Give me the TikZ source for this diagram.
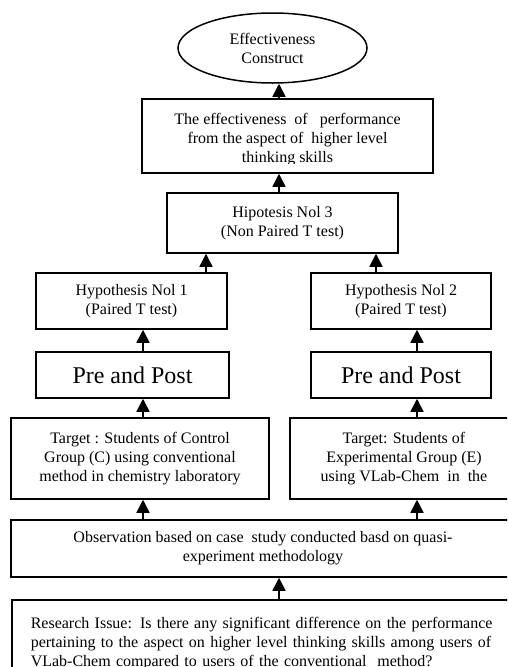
\documentclass[tikz,border=0pt]{standalone}
\usepackage{fontspec}
\setmainfont{Liberation Serif}
\usetikzlibrary{arrows.meta,shapes.geometric}
\begin{document}
\begin{tikzpicture}[x=1pt,y=-1pt,
  txt/.style={inner sep=0pt, align=center, font=\fontsize{16}{19}\selectfont},
  box/.style={txt, draw, line width=1.5pt},
  big/.style={box, font=\fontsize{24}{28}\selectfont},
  arr/.style={line width=1.5pt, -{Triangle[width=13pt,length=13pt]}}]
\useasboundingbox (0,0) rectangle (507,667);
\clip (0,0) rectangle (507,667);
% guide coordinates for arrow positions
\coordinate (cL) at (143,0);
\coordinate (cR) at (417,0);
\coordinate (cH1) at (206,0);
\coordinate (cH2) at (376,0);
\coordinate (cM) at (279,0);
% nodes
\node[box, ellipse, minimum width=189pt, minimum height=70pt] (ell) at (272.5,48) {Effectiveness\\Construct};
\node[box, minimum width=291pt, minimum height=74pt] (eff) at (287.5,136) {};
\begin{scope}
  \clip (142,99) rectangle (433,163);
  \node[txt] (efftext) at (287.5,139.5) {The effectiveness\ \ of\ \ \ performance\\from the aspect of\ \ higher level\\thinking skills};
\end{scope}
\node[box, minimum width=231pt, minimum height=60pt] (hip) at (282.5,223) {Hipotesis Nol 3\\(Non Paired T test)};
\node[box, minimum width=191pt, minimum height=56pt] (hyp1) at (131.5,301) {Hypothesis Nol 1\\(Paired T test)};
\node[box, minimum width=180pt, minimum height=56pt] (hyp2) at (401,301) {Hypothesis Nol 2\\(Paired T test)};
\node[big, minimum width=193pt, minimum height=46pt] (pp1) at (132.5,375) {Pre and Post};
\node[big, minimum width=180pt, minimum height=46pt] (pp2) at (401,375) {Pre and Post};
\node[box, minimum width=258pt, minimum height=81pt] (t1) at (140,458.5) {Target : Students of Control\\Group (C) using conventional\\method in chemistry laboratory};
\node[box, minimum width=228pt, minimum height=81pt] (t2) at (404,458.5) {Target: Students of\\Experimental Group (E)\\using VLab-Chem\ \ in\ \ the};
\node[box, minimum width=504pt, minimum height=57pt] (obs) at (263,548.5) {Observation based on case\ \ study conducted basd on quasi-\\experiment methodology};
\node[box, anchor=north west, align=left, inner xsep=19pt, inner ysep=17pt, text width=467pt] (res) at (11,599)
  {\makebox[467pt][s]{Research Issue: Is there any significant difference on the performance}\\
   \makebox[467pt][s]{pertaining to the aspect on higher level thinking skills among users of}\\
   VLab-Chem compared to users of the conventional\ \ method?};
% connectors
\draw[arr] (eff.north -| cM) -- (ell.south -| cM);
\draw[arr] (hip.north -| cM) -- (eff.south -| cM);
\draw[arr] (hyp1.north -| cH1) -- (hip.south -| cH1);
\draw[arr] (hyp2.north -| cH2) -- (hip.south -| cH2);
\draw[arr] (pp1.north -| cL) -- (hyp1.south -| cL);
\draw[arr] (pp2.north -| cR) -- (hyp2.south -| cR);
\draw[arr] (t1.north -| cL) -- (pp1.south -| cL);
\draw[arr] (t2.north -| cR) -- (pp2.south -| cR);
\draw[arr] (obs.north -| cL) -- (t1.south -| cL);
\draw[arr] (obs.north -| cR) -- (t2.south -| cR);
\draw[arr] (res.north -| cM) -- (obs.south -| cM);
\end{tikzpicture}
\end{document}
